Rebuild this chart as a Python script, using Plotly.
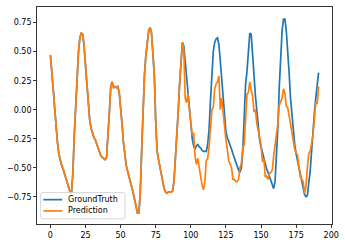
import plotly.graph_objects as go

# shared early segment (both series coincide)
common = [0.47, 0.35, 0.18, 0.02, -0.15, -0.28, -0.38, -0.44, -0.48, -0.51,
          -0.55, -0.59, -0.63, -0.67, -0.71, -0.72, -0.55, -0.22, 0.06, 0.30,
          0.50, 0.62, 0.66, 0.65, 0.55, 0.38, 0.19, 0.02, -0.09, -0.16,
          -0.21, -0.24, -0.26, -0.30, -0.34, -0.38, -0.40, -0.41, -0.42, -0.43,
          -0.41, -0.25, -0.02, 0.20, 0.24, 0.19, 0.20, 0.19, 0.20, 0.15,
          0.03, -0.12, -0.28, -0.41, -0.48, -0.53, -0.57, -0.62, -0.67, -0.72,
          -0.78, -0.83, -0.89, -0.89, -0.72, -0.35, 0.00, 0.30, 0.47, 0.60,
          0.68, 0.71, 0.66, 0.48, 0.30, -0.10, -0.36, -0.43, -0.49, -0.56,
          -0.63, -0.68, -0.71, -0.72, -0.71, -0.71, -0.71, -0.70, -0.62, -0.42,
          -0.24, -0.02, 0.22, 0.45, 0.58]

gt_tail = [0.55, 0.42, 0.25, 0.10, -0.03, -0.13, -0.25, -0.31, -0.34, -0.31,
           -0.30, -0.32, -0.33, -0.35, -0.36, -0.36, -0.36, -0.30, -0.17, 0.08,
           0.30, 0.50, 0.58, 0.61, 0.62, 0.56, 0.42, 0.25, 0.06, -0.10,
           -0.19, -0.24, -0.27, -0.31, -0.34, -0.38, -0.42, -0.46, -0.48, -0.52,
           -0.54, -0.50, -0.36, -0.12, 0.22, 0.33, 0.50, 0.66, 0.65, 0.50,
           0.30, 0.12, -0.02, -0.15, -0.26, -0.32, -0.37, -0.42, -0.47, -0.51,
           -0.54, -0.58, -0.62, -0.65, -0.68, -0.62, -0.40, -0.15, 0.20, 0.45,
           0.68, 0.78, 0.78, 0.68, 0.52, 0.32, 0.10, -0.05, -0.20, -0.30,
           -0.38, -0.44, -0.51, -0.58, -0.63, -0.68, -0.73, -0.75, -0.74, -0.63,
           -0.53, -0.36, -0.17, -0.03, 0.10, 0.22, 0.32]

pred_tail = [0.52, 0.10, 0.06, 0.14, 0.00, -0.12, -0.22, -0.20, -0.40, -0.47,
             -0.42, -0.50, -0.58, -0.65, -0.69, -0.62, -0.44, -0.42, -0.32, -0.12,
             0.00, 0.02, 0.18, 0.22, 0.24, 0.29, 0.00, 0.10, -0.04, -0.17,
             -0.26, -0.34, -0.44, -0.47, -0.50, -0.60, -0.60, -0.62, -0.62, -0.60,
             -0.50, -0.46, -0.33, -0.30, -0.10, 0.13, 0.15, 0.24, 0.17, 0.12,
             -0.02, 0.00, -0.12, -0.18, -0.25, -0.30, -0.45, -0.42, -0.58, -0.57,
             -0.60, -0.55, -0.54, -0.52, -0.40, -0.32, -0.24, -0.12, 0.04, 0.08,
             0.10, 0.18, 0.14, 0.03, 0.02, -0.05, -0.13, -0.20, -0.26, -0.34,
             -0.37, -0.39, -0.50, -0.58, -0.60, -0.62, -0.72, -0.66, -0.50, -0.38,
             -0.36, -0.30, -0.22, -0.08, 0.06, 0.05, 0.20]

ground_truth = common + gt_tail
prediction = common + pred_tail
steps = list(range(len(ground_truth)))

series_names = ["GroundTruth", "Prediction"]
series_colors = ["#1f77b4", "#ff7f0e"]

x_ticks = [0, 25, 50, 75, 100, 125, 150, 175, 200]
y_ticks = [-0.75, -0.50, -0.25, 0.00, 0.25, 0.50, 0.75]
y_tick_text = ["\u22120.75", "\u22120.50", "\u22120.25", "0.00", "0.25", "0.50", "0.75"]

FONT = dict(family="DejaVu Sans", size=8, color="black")

fig = go.Figure()
for name, color, ys in zip(series_names, series_colors, [ground_truth, prediction]):
    fig.add_trace(go.Scatter(x=steps, y=ys, mode="lines", name=name,
                             line=dict(color=color, width=1.7), showlegend=False))

axis_common = dict(showgrid=False, zeroline=False, showline=True, mirror=True,
                   linecolor="#333333", linewidth=0.8, ticks="outside", ticklen=3,
                   tickcolor="#333333", tickwidth=0.8, tickfont=FONT)

# compact matplotlib-style legend (lower left), built from paper-anchored shapes
W, H = 295.0, 221.0  # plot-area size in px
def px(x):
    return x / W
def py(y):
    return y / H

bx0, bx1, by0, by1 = px(3.7), px(88.0), py(5.3), py(32.0)
rx, ry = px(2.0), py(2.0)
box_path = (f"M {bx0+rx},{by0} L {bx1-rx},{by0} Q {bx1},{by0} {bx1},{by0+ry} "
            f"L {bx1},{by1-ry} Q {bx1},{by1} {bx1-rx},{by1} L {bx0+rx},{by1} "
            f"Q {bx0},{by1} {bx0},{by1-ry} L {bx0},{by0+ry} Q {bx0},{by0} {bx0+rx},{by0} Z")
shapes = [dict(type="path", xref="paper", yref="paper", path=box_path,
               fillcolor="rgba(255,255,255,0.8)", line=dict(color="#cccccc", width=0.8))]
annotations = []
entry_y = [py(24.8), py(13.3)]
for name, color, yy in zip(series_names, series_colors, entry_y):
    shapes.append(dict(type="line", xref="paper", yref="paper",
                       x0=px(6.3), x1=px(25.3), y0=yy, y1=yy,
                       line=dict(color=color, width=1.7)))
    annotations.append(dict(xref="paper", yref="paper", x=px(29.5), y=yy,
                            xanchor="left", yanchor="middle", text=name, showarrow=False,
                            font=FONT, borderpad=0))

fig.update_layout(
    width=345, height=246,
    margin=dict(l=37, r=13, t=6, b=19),
    paper_bgcolor="white", plot_bgcolor="white",
    xaxis=dict(range=[-9.55, 200.55], tickvals=x_ticks, **axis_common),
    yaxis=dict(range=[-0.985, 0.885], tickvals=y_ticks, ticktext=y_tick_text, **axis_common),
    shapes=shapes,
    annotations=annotations,
    showlegend=False,
)

fig.write_html("out.html", config={"displayModeBar": False})

with open("out.html", "r", encoding="utf-8") as f:
    html = f.read()
html = html.replace("<head>", "<head><style>html,body{margin:0;padding:0;overflow:hidden;}</style>", 1)
with open("out.html", "w", encoding="utf-8") as f:
    f.write(html)
